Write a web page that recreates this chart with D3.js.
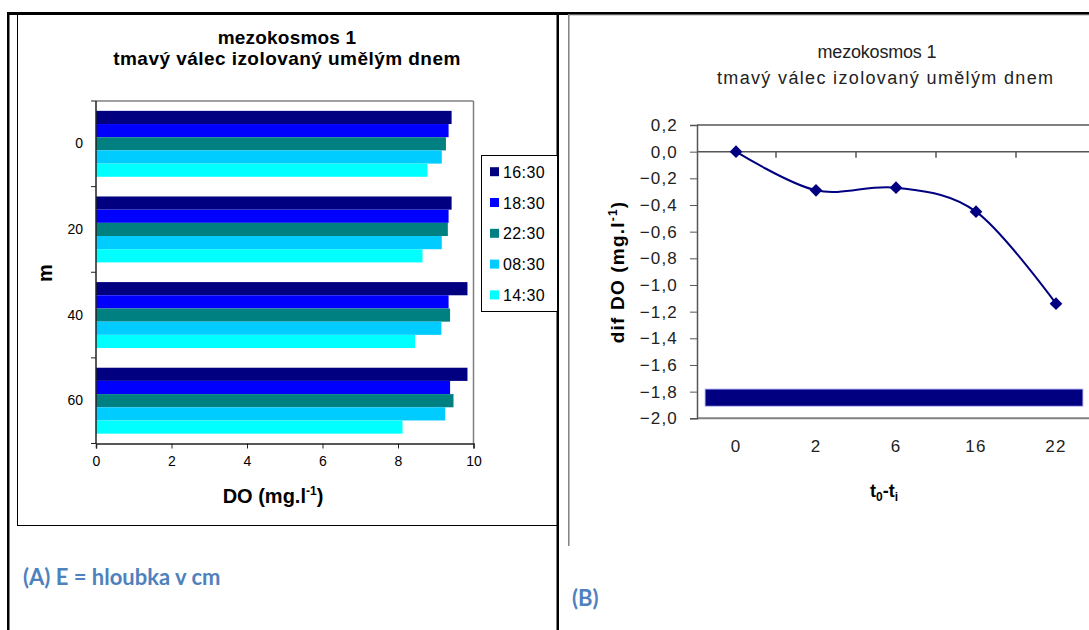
<!DOCTYPE html>
<html>
<head>
<meta charset="utf-8">
<script src="https://cdn.jsdelivr.net/npm/d3@7"></script>
<style>
  body { margin: 0; background: #fff; }
  svg { display: block; font-family: "Liberation Sans", Arial, sans-serif; }
</style>
</head>
<body>
<svg id="chart" width="1089" height="630"></svg>
<script>
// ---- Panel A: dissolved oxygen by depth and time of day ----
const depths = ["0", "20", "40", "60"];
const times = ["16:30", "18:30", "22:30", "08:30", "14:30"];
const timeColors = ["#000080", "#0000FF", "#008080", "#00CCFF", "#00FFFF"];
const do1630 = [9.42, 9.42, 9.84, 9.84];
const do1830 = [9.34, 9.34, 9.34, 9.38];
const do2230 = [9.27, 9.32, 9.38, 9.47];
const do0830 = [9.16, 9.16, 9.15, 9.25];
const do1430 = [8.78, 8.65, 8.45, 8.12];
const doTicks = [0, 2, 4, 6, 8, 10];

// ---- Panel B: difference of DO against the start ----
const steps = ["0", "2", "6", "16", "22"];
const difDO = [0, -0.29, -0.27, -0.45, -1.14];
const difTicks = [0.2, 0, -0.2, -0.4, -0.6, -0.8, -1.0, -1.2, -1.4, -1.6, -1.8, -2.0];
const floorBand = [-1.91, -1.78];

const svg = d3.select("#chart");
const seriesByTime = [do1630, do1830, do2230, do0830, do1430];
const FONT = "Liberation Sans, Arial, sans-serif";

// ---------- page frame ----------
const frame = svg.append("g");
frame.append("rect").attr("x", 7).attr("y", 12).attr("width", 1082).attr("height", 3).attr("fill", "#000");
frame.append("rect").attr("x", 7).attr("y", 12).attr("width", 2.5).attr("height", 618).attr("fill", "#000");
frame.append("rect").attr("x", 556.5).attr("y", 12).attr("width", 2.5).attr("height", 618).attr("fill", "#000");
frame.append("line").attr("x1", 17.5).attr("x2", 17.5).attr("y1", 14).attr("y2", 525.5).attr("stroke", "#000").attr("stroke-width", 1);
frame.append("line").attr("x1", 17).attr("x2", 557).attr("y1", 525.5).attr("y2", 525.5).attr("stroke", "#000").attr("stroke-width", 1);
frame.append("line").attr("x1", 568.8).attr("x2", 568.8).attr("y1", 14).attr("y2", 546).attr("stroke", "#808080").attr("stroke-width", 1.5);
frame.append("line").attr("x1", 568).attr("x2", 1089).attr("y1", 14.8).attr("y2", 14.8).attr("stroke", "#808080").attr("stroke-width", 1);

// ---------- Panel A ----------
const A = svg.append("g");
const xA = d3.scaleLinear().domain([0, 10]).range([96, 473.5]);
const yA = d3.scaleBand().domain(depths).range([101, 443.5]);
const bw = yA.bandwidth();
const yInner = d3.scaleBand().domain(times).range([bw * 0.115, bw * 0.885]);

A.append("text").attr("x", 287).attr("y", 44).attr("text-anchor", "middle")
  .attr("font-weight", "bold").attr("font-size", 19).attr("letter-spacing", 0.2).text("mezokosmos 1");
A.append("text").attr("x", 287).attr("y", 65).attr("text-anchor", "middle")
  .attr("font-weight", "bold").attr("font-size", 19).attr("letter-spacing", 0.45)
  .text("tmavý válec izolovaný umělým dnem");

// plot-area border
A.append("line").attr("x1", xA(0)).attr("x2", xA(10)).attr("y1", 101).attr("y2", 101).attr("stroke", "#808080").attr("stroke-width", 1.5);
A.append("line").attr("x1", xA(10)).attr("x2", xA(10)).attr("y1", 101).attr("y2", 443.5).attr("stroke", "#808080").attr("stroke-width", 1.5);

// bars
const groups = A.append("g").selectAll("g").data(depths).join("g")
  .attr("transform", d => `translate(0,${yA(d)})`);
groups.selectAll("rect")
  .data((d, gi) => times.map((t, ti) => ({ t, ti, v: seriesByTime[ti][gi] })))
  .join("rect")
  .attr("x", xA(0))
  .attr("y", d => yInner(d.t))
  .attr("width", d => xA(d.v) - xA(0))
  .attr("height", yInner.bandwidth())
  .attr("fill", d => timeColors[d.ti]);

// x axis
const xAxisA = A.append("g").attr("transform", "translate(0,443.5)")
  .call(d3.axisBottom(xA).tickValues(doTicks).tickSize(5).tickPadding(8).tickFormat(d3.format("d")));
xAxisA.select(".domain").attr("stroke", "#222").attr("stroke-width", 1.5);
xAxisA.selectAll(".tick line").attr("stroke", "#222");
xAxisA.selectAll("text").attr("font-size", 14).attr("fill", "#000").attr("font-family", FONT);

// y axis: labels at band centres, ticks at band edges
const yAxisA = A.append("g").attr("transform", `translate(${xA(0)},0)`)
  .call(d3.axisLeft(yA).tickSize(0).tickPadding(13));
yAxisA.select(".domain").remove();
yAxisA.selectAll("text").attr("font-size", 14).attr("fill", "#000").attr("font-family", FONT);
A.append("line").attr("x1", xA(0)).attr("x2", xA(0)).attr("y1", 101).attr("y2", 443.5).attr("stroke", "#222").attr("stroke-width", 1.5);
A.append("g").selectAll("line").data(depths.map(d => yA(d)).concat([yA.range()[1]])).join("line")
  .attr("x1", xA(0) - 5).attr("x2", xA(0)).attr("y1", d => d).attr("y2", d => d)
  .attr("stroke", "#222");

// axis titles
const xTitleA = A.append("text").attr("x", 273).attr("y", 503).attr("text-anchor", "middle")
  .attr("font-weight", "bold").attr("font-size", 20);
xTitleA.append("tspan").text("DO (mg.l");
xTitleA.append("tspan").attr("font-size", 12).attr("dy", -8).text("-1");
xTitleA.append("tspan").attr("dy", 8).text(")");
A.append("text").attr("transform", "translate(52,273) rotate(-90)").attr("text-anchor", "middle")
  .attr("font-weight", "bold").attr("font-size", 20).text("m");

// legend
const leg = A.append("g");
leg.append("rect").attr("x", 481.5).attr("y", 155.5).attr("width", 76).attr("height", 156)
  .attr("fill", "#fff").attr("stroke", "#000").attr("stroke-width", 1);
const legItems = leg.selectAll("g.item").data(times).join("g").attr("class", "item")
  .attr("transform", (d, i) => `translate(0,${171.7 + i * 30.8})`);
legItems.append("rect").attr("x", 490).attr("y", -4.5).attr("width", 9).attr("height", 9)
  .attr("fill", (d, i) => timeColors[i]);
legItems.append("text").attr("x", 503).attr("y", 6).attr("font-size", 16).attr("letter-spacing", 0.4).text(d => d);

// caption
svg.append("text").attr("x", 23).attr("y", 585).attr("font-family", "Lato, 'Open Sans', sans-serif")
  .attr("font-weight", "bold").attr("font-size", 22).attr("fill", "#4F81BD").text("(A) E = hloubka v cm");

// ---------- Panel B ----------
const B = svg.append("g");
const xB = d3.scaleBand().domain(steps).range([696, 1096]);
const yB = d3.scaleLinear().domain([-2, 0.2]).range([418.3, 125]);
const fmt = v => d3.format(".1f")(v).replace(".", ",").replace("-", "\u2212").replace("\u22120,0", "0,0");

B.append("text").attr("x", 877).attr("y", 58).attr("text-anchor", "middle")
  .attr("font-size", 18).attr("fill", "#222").attr("textLength", 119).attr("lengthAdjust", "spacing")
  .text("mezokosmos 1");
B.append("text").attr("x", 885).attr("y", 84).attr("text-anchor", "middle")
  .attr("font-size", 18).attr("fill", "#222").attr("textLength", 336).attr("lengthAdjust", "spacing")
  .text("tmavý válec izolovaný umělým dnem");

// plot-area border
B.append("line").attr("x1", 697).attr("x2", 1096).attr("y1", yB(0.2)).attr("y2", yB(0.2)).attr("stroke", "#808080").attr("stroke-width", 2);
B.append("line").attr("x1", 697).attr("x2", 1096).attr("y1", yB(-2)).attr("y2", yB(-2)).attr("stroke", "#808080").attr("stroke-width", 2);

// y axis
const yAxisB = B.append("g").attr("transform", "translate(697,0)")
  .call(d3.axisLeft(yB).tickValues(difTicks).tickSize(7).tickPadding(12).tickFormat(fmt));
yAxisB.select(".domain").attr("stroke", "#555").attr("stroke-width", 1.5);
yAxisB.selectAll(".tick line").attr("stroke", "#555");
yAxisB.selectAll("text").attr("font-size", 17).attr("letter-spacing", 1.2).attr("fill", "#222").attr("font-family", FONT);

// category axis crossing at zero, ticks between categories
B.append("line").attr("x1", 697).attr("x2", 1096).attr("y1", yB(0)).attr("y2", yB(0)).attr("stroke", "#555").attr("stroke-width", 1.5);
B.append("g").selectAll("line").data(steps.slice(1)).join("line")
  .attr("x1", d => xB(d)).attr("x2", d => xB(d)).attr("y1", yB(0)).attr("y2", yB(0) + 6)
  .attr("stroke", "#555").attr("stroke-width", 1.5);
B.append("g").selectAll("text").data(steps).join("text")
  .attr("x", d => xB(d) + xB.bandwidth() / 2).attr("y", 451.5).attr("text-anchor", "middle")
  .attr("font-size", 17).attr("letter-spacing", 1.2).attr("fill", "#222").text(d => d);

// dark band near the floor of the plot
B.append("rect")
  .attr("x", xB.range()[0] + 9).attr("width", xB.range()[1] - xB.range()[0] - 22)
  .attr("y", yB(floorBand[1])).attr("height", yB(floorBand[0]) - yB(floorBand[1]))
  .attr("fill", "#000080").attr("stroke", "#c8c8ff").attr("stroke-width", 1);

// smoothed series line with diamond markers
const pts = steps.map((s, i) => [xB(s) + xB.bandwidth() / 2, yB(difDO[i])]);
B.append("path").attr("d", d3.line().curve(d3.curveCardinal.tension(0))(pts))
  .attr("fill", "none").attr("stroke", "#000080").attr("stroke-width", 2);
B.append("g").selectAll("path").data(pts).join("path")
  .attr("transform", d => `translate(${d[0]},${d[1]}) rotate(45)`)
  .attr("d", d3.symbol(d3.symbolSquare, 80)())
  .attr("fill", "#000080");

// axis titles
const yTitleB = B.append("text").attr("transform", "translate(624,272) rotate(-90)").attr("text-anchor", "middle")
  .attr("font-weight", "bold").attr("font-size", 19).attr("letter-spacing", 1.2);
yTitleB.append("tspan").text("dif DO (mg.l");
yTitleB.append("tspan").attr("font-size", 12).attr("dy", -7).text("-1");
yTitleB.append("tspan").attr("dy", 7).text(")");

const xTitleB = B.append("text").attr("x", 884).attr("y", 497).attr("text-anchor", "middle")
  .attr("font-weight", "bold").attr("font-size", 18);
xTitleB.append("tspan").text("t");
xTitleB.append("tspan").attr("font-size", 12).attr("dy", 4).text("0");
xTitleB.append("tspan").attr("dy", -4).text("-t");
xTitleB.append("tspan").attr("font-size", 12).attr("dy", 4).text("i");

svg.append("text").attr("x", 572).attr("y", 606).attr("font-family", "Lato, 'Open Sans', sans-serif")
  .attr("font-weight", "bold").attr("font-size", 22).attr("fill", "#4F81BD").text("(B)");
</script>
</body>
</html>
